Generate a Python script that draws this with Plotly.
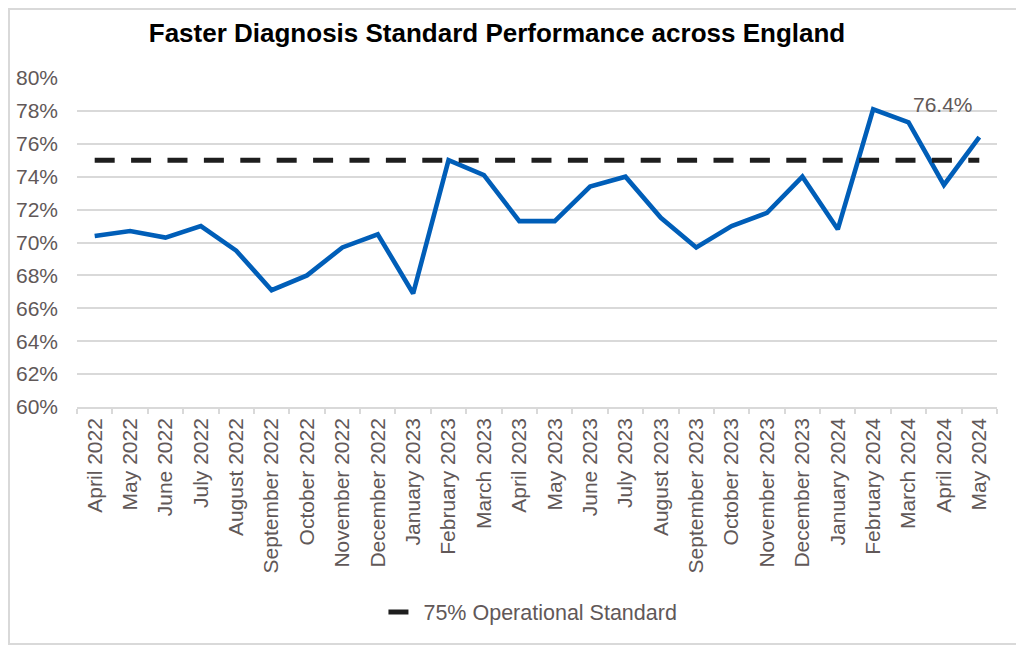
import plotly.graph_objects as go

months = ["April 2022", "May 2022", "June 2022", "July 2022", "August 2022",
          "September 2022", "October 2022", "November 2022", "December 2022",
          "January 2023", "February 2023", "March 2023", "April 2023", "May 2023",
          "June 2023", "July 2023", "August 2023", "September 2023", "October 2023",
          "November 2023", "December 2023", "January 2024", "February 2024",
          "March 2024", "April 2024", "May 2024"]
performance = [70.4, 70.7, 70.3, 71.0, 69.5, 67.1, 68.0, 69.7, 70.5, 66.9,
               75.0, 74.1, 71.3, 71.3, 73.4, 74.0, 71.5, 69.7, 71.0, 71.8,
               74.0, 70.8, 78.1, 77.3, 73.5, 76.4]
standard = [75.0] * len(months)
y_ticks = [60, 62, 64, 66, 68, 70, 72, 74, 76, 78, 80]
y_tick_labels = [f"{v}%" for v in y_ticks]

TEXT = "#615858"
GRID = "#d9d9d9"
FONT = "Liberation Sans, Arial, sans-serif"

fig = go.Figure()
fig.add_trace(go.Scatter(
    x=months, y=performance, mode="lines", name="FDS performance",
    line=dict(color="#005EB8", width=4.6), showlegend=False,
))
fig.add_trace(go.Scatter(
    x=months, y=standard, mode="lines", name="75% Operational Standard",
    line=dict(color="#1e1e1e", width=5, dash="20px,16.4px"),
))

fig.add_annotation(
    x=months[-1], y=performance[-1], text=f"{performance[-1]}%",
    showarrow=False, xshift=-36, yshift=33,
    font=dict(family=FONT, size=21, color=TEXT),
)

fig.add_shape(type="rect", xref="paper", yref="paper",
              x0=-0.0739, x1=1.0283, y0=-0.7204, y1=1.2097,
              line=dict(color=GRID, width=2), fillcolor="rgba(0,0,0,0)", layer="below")

fig.update_layout(
    width=1016, height=638,
    margin=dict(l=69, r=27, t=70, b=239),
    paper_bgcolor="white", plot_bgcolor="white",
    font=dict(family=FONT, size=21, color=TEXT),
    title=dict(text="<b>Faster Diagnosis Standard Performance across England</b>",
               x=0.4813, xanchor="center", xref="container",
               y=1 - 25 / 638, yanchor="middle", yref="container",
               font=dict(family=FONT, size=26, color="black")),
    legend=dict(orientation="h", x=0.4956, xanchor="center", y=-0.623, yanchor="middle",
                font=dict(family=FONT, size=21.5, color=TEXT), bgcolor="rgba(0,0,0,0)"),
    xaxis=dict(
        type="category", tickangle=-90, showgrid=False,
        showline=True, linecolor=GRID, linewidth=1.5,
        ticks="outside", ticklen=5, tickcolor=GRID, tickwidth=1.5,
        tickson="boundaries", ticklabelstandoff=1, automargin=False,
        tickfont=dict(family=FONT, size=21, color=TEXT),
        range=[-0.5, len(months) - 0.5],
    ),
    yaxis=dict(
        range=[60, 80], tickvals=y_ticks, ticktext=y_tick_labels,
        showgrid=True, gridcolor=GRID, gridwidth=1.5, zeroline=False,
        showline=False, ticks="", ticklabelstandoff=18, automargin=False,
        tickfont=dict(family=FONT, size=21, color=TEXT),
    ),
)

fig.write_html("out.html")
